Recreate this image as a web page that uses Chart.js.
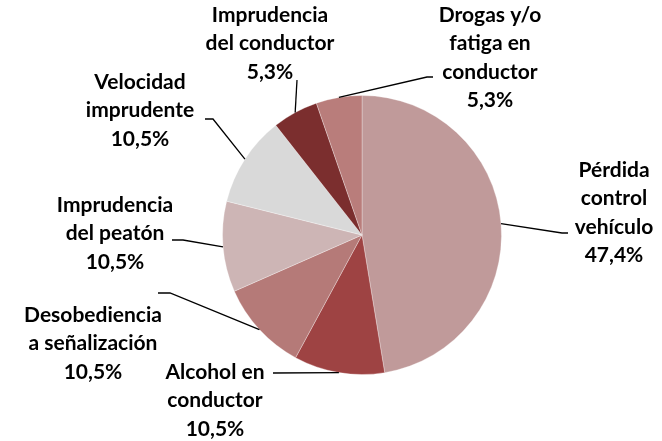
<!DOCTYPE html>
<html>
<head>
<meta charset="utf-8">
<script src="https://cdn.jsdelivr.net/npm/chart.js@4"></script>
<style>
  html, body { margin: 0; padding: 0; background: #fff; }
  #wrap { width: 662px; height: 441px; }
</style>
</head>
<body>
<div id="wrap"><canvas id="chart" width="662" height="441"></canvas></div>
<script>
// categories (one entry per slice, multi-line label) and their shares in %
const categories = [
    ['Pérdida', 'control', 'vehículo'],
    ['Alcohol en', 'conductor'],
    ['Desobediencia', 'a señalización'],
    ['Imprudencia', 'del peatón'],
    ['Velocidad', 'imprudente'],
    ['Imprudencia', 'del conductor'],
    ['Drogas y/o', 'fatiga en', 'conductor']
]
const shares = [47.4, 10.5, 10.5, 10.5, 10.5, 5.3, 5.3]
const sliceColors = ['#c09a9a', '#9e4343', '#b57a78', '#cdb5b5', '#d9d9d9', '#7b2e2e', '#b97d7b']

// where each label goes: text centre + first line, and the elbow of its leader line
const labelLayout = [
    { x: 614, y: 170, knee: [562, 233], end: [568, 233] },
    { x: 215, y: 372, knee: null, end: [273, 373] },
    { x: 93,  y: 315, knee: [170, 293], end: [158, 293] },
    { x: 115, y: 205, knee: [183, 240], end: [172, 240] },
    { x: 140, y: 82,  knee: [213, 119], end: [205, 119] },
    { x: 270, y: 15,  knee: null, end: [297, 80] },
    { x: 490, y: 15,  knee: [427, 77], end: [433, 77] }
]

const fmt = v => v.toFixed(1).replace('.', ',') + '%'

const outsideLabels = {
    id: 'outsideLabels',
    afterDatasetsDraw(chart) {
        const ctx = chart.ctx
        const arcs = chart.getDatasetMeta(0).data
        ctx.save()
        arcs.forEach((arc, i) => {
            const lay = labelLayout[i]
            const mid = (arc.startAngle + arc.endAngle) / 2
            const ax = arc.x + Math.cos(mid) * arc.outerRadius
            const ay = arc.y + Math.sin(mid) * arc.outerRadius

            // leader line
            ctx.strokeStyle = '#000'
            ctx.lineWidth = 1.3
            ctx.beginPath()
            ctx.moveTo(ax, ay)
            if (lay.knee) ctx.lineTo(lay.knee[0], lay.knee[1])
            ctx.lineTo(lay.end[0], lay.end[1])
            ctx.stroke()

            // text
            const lines = categories[i].concat([fmt(shares[i])])
            ctx.fillStyle = '#000'
            ctx.font = 'bold 21px Lato'
            ctx.textAlign = 'center'
            ctx.textBaseline = 'middle'
            lines.forEach((t, k) => {
                ctx.fillText(t, lay.x, lay.y + k * 28.5)
            })
        })
        ctx.restore()
    }
}

new Chart(document.querySelector('#chart'), {
    type: 'pie',
    data: {
        labels: categories.map(c => c.join(' ')),
        datasets: [{
            data: shares,
            backgroundColor: sliceColors,
            borderColor: 'rgba(255,255,255,0.3)',
            borderWidth: 1
        }]
    },
    options: {
        responsive: false,
        animation: false,
        layout: {
            padding: { top: 95, bottom: 66, left: 222, right: 160 }
        },
        plugins: {
            legend: { display: false },
            tooltip: { enabled: false }
        }
    },
    plugins: [outsideLabels]
})
</script>
</body>
</html>
